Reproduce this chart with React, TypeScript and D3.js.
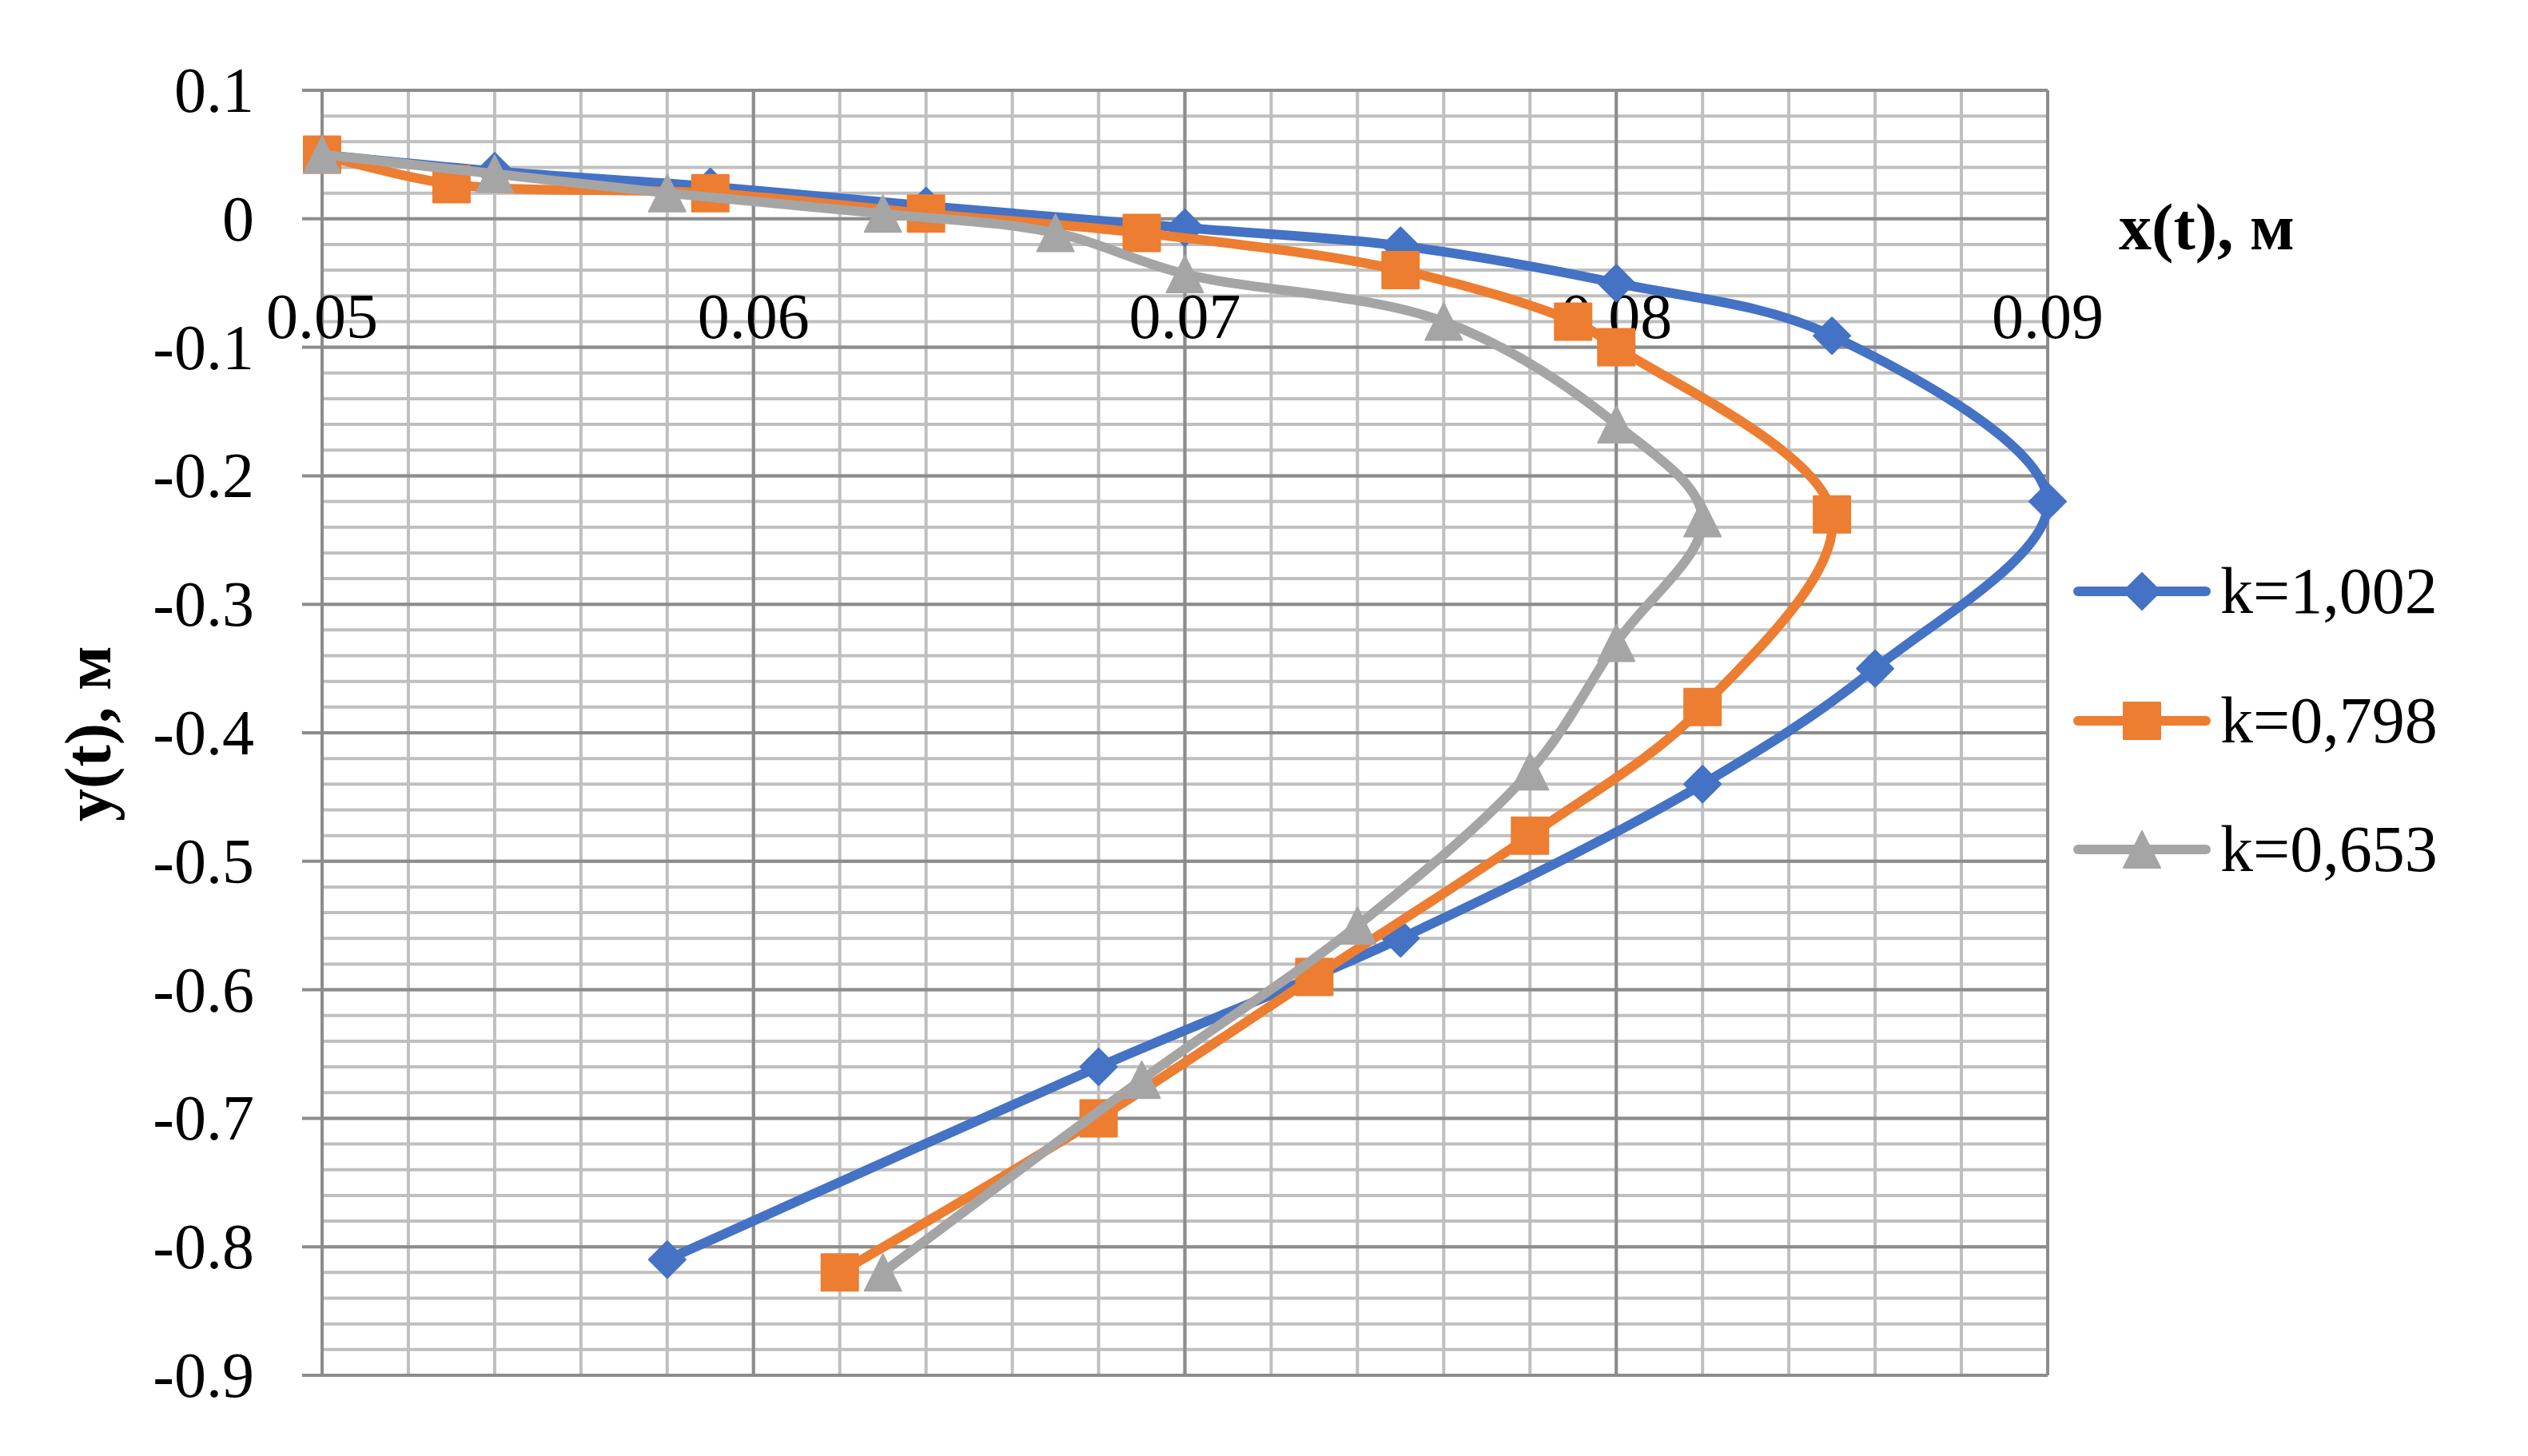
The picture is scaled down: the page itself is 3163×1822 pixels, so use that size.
import React from "react";
import * as d3 from "d3";

const W = 3163;
const H = 1822;

const seriesNames = ["k=1,002", "k=0,798", "k=0,653"];
const seriesColors = ["#4472C4", "#ED7D31", "#A5A5A5"];
const seriesMarkers = ["diamond", "square", "triangle"];

const blueX = [0.05, 0.054, 0.059, 0.064, 0.07, 0.075, 0.08, 0.085, 0.09, 0.086, 0.082, 0.075, 0.068, 0.058];
const blueY = [0.05, 0.037, 0.025, 0.01, -0.007, -0.021, -0.05, -0.091, -0.22, -0.35, -0.44, -0.56, -0.66, -0.81];
const orangeX = [0.05, 0.053, 0.059, 0.064, 0.069, 0.075, 0.079, 0.08, 0.085, 0.082, 0.078, 0.073, 0.068, 0.062];
const orangeY = [0.05, 0.027, 0.02, 0.004, -0.011, -0.04, -0.08, -0.1, -0.23, -0.38, -0.48, -0.59, -0.7, -0.82];
const grayX = [0.05, 0.054, 0.058, 0.063, 0.067, 0.07, 0.076, 0.08, 0.082, 0.08, 0.078, 0.074, 0.069, 0.063];
const grayY = [0.05, 0.035, 0.02, 0.004, -0.011, -0.043, -0.08, -0.16, -0.233, -0.33, -0.43, -0.55, -0.67, -0.82];

const xTicks = [0.05, 0.06, 0.07, 0.08, 0.09];
const xTickLabels = ["0.05", "0.06", "0.07", "0.08", "0.09"];
const yTicks = [0.1, 0, -0.1, -0.2, -0.3, -0.4, -0.5, -0.6, -0.7, -0.8, -0.9];
const yTickLabels = ["0.1", "0", "-0.1", "-0.2", "-0.3", "-0.4", "-0.5", "-0.6", "-0.7", "-0.8", "-0.9"];

const xTitle = "x(t), м";
const yTitle = "y(t), м";

const FONT = "'Liberation Serif', 'Times New Roman', serif";

function markerPath(type: string, cx: number, cy: number, s: number) {
  const h = s / 2;
  if (type === "diamond") {
    return `M${cx},${cy - h}L${cx + h},${cy}L${cx},${cy + h}L${cx - h},${cy}Z`;
  }
  if (type === "square") {
    return `M${cx - h},${cy - h}H${cx + h}V${cy + h}H${cx - h}Z`;
  }
  return `M${cx},${cy - h}L${cx + h},${cy + h}L${cx - h},${cy + h}Z`;
}

export default function App() {
  const x = d3.scaleLinear().domain([0.05, 0.09]).range([403, 2562]);
  const y = d3.scaleLinear().domain([0.1, -0.9]).range([113, 1721]);

  const minorX = d3.range(0, 21).map((i) => 0.05 + i * 0.002);
  const minorY = d3.range(0, 51).map((i) => 0.1 - i * 0.02);

  const series = [
    { xs: blueX, ys: blueY },
    { xs: orangeX, ys: orangeY },
    { xs: grayX, ys: grayY },
  ];

  const line = d3
    .line<[number, number]>()
    .x((d) => x(d[0]))
    .y((d) => y(d[1]))
    .curve(d3.curveCatmullRom.alpha(0.5));

  const legendY = [740, 902, 1063];

  return (
    <svg
      width={W}
      height={H}
      viewBox={`0 0 ${W} ${H}`}
      style={{ position: "absolute", left: 0, top: 0, background: "#fff" }}
    >
      <rect x={0} y={0} width={W} height={H} fill="#fff" />
      {/* minor grid */}
      {minorX.map((v, i) => (
        <line key={"mx" + i} x1={x(v)} x2={x(v)} y1={y(0.1)} y2={y(-0.9)} stroke="#BFBFBF" strokeWidth={4} />
      ))}
      {minorY.map((v, i) => (
        <line key={"my" + i} x1={x(0.05)} x2={x(0.09)} y1={y(v)} y2={y(v)} stroke="#BFBFBF" strokeWidth={4} />
      ))}
      {/* major grid */}
      {xTicks.map((v, i) => (
        <line key={"Mx" + i} x1={x(v)} x2={x(v)} y1={y(0.1)} y2={y(-0.9)} stroke="#8C8C8C" strokeWidth={4} />
      ))}
      {yTicks.map((v, i) => (
        <line key={"My" + i} x1={x(0.05) - 25} x2={x(0.09)} y1={y(v)} y2={y(v)} stroke="#8C8C8C" strokeWidth={4} />
      ))}
      {/* y tick labels */}
      {yTicks.map((v, i) => (
        <text
          key={"yl" + i}
          x={318}
          y={y(v) + 27}
          textAnchor="end"
          fontFamily={FONT}
          fontSize={80}
          fill="#000"
        >
          {yTickLabels[i]}
        </text>
      ))}
      {/* x tick labels */}
      {xTicks.map((v, i) => (
        <text
          key={"xl" + i}
          x={x(v)}
          y={423}
          textAnchor="middle"
          fontFamily={FONT}
          fontSize={80}
          fill="#000"
        >
          {xTickLabels[i]}
        </text>
      ))}
      {/* series */}
      {series.map((s, si) => {
        const pts = s.xs.map((v, i) => [v, s.ys[i]] as [number, number]);
        return (
          <g key={"s" + si}>
            <path
              d={line(pts) || ""}
              fill="none"
              stroke={seriesColors[si]}
              strokeWidth={12}
              strokeLinejoin="round"
              strokeLinecap="round"
            />
            {pts.map((p, i) => (
              <path
                key={"m" + i}
                d={markerPath(seriesMarkers[si], x(p[0]), y(p[1]), 46)}
                fill={seriesColors[si]}
                stroke={seriesColors[si]}
                strokeWidth={2}
                strokeLinejoin="round"
              />
            ))}
          </g>
        );
      })}
      {/* axis titles */}
      <text x={2761} y={312} textAnchor="middle" fontFamily={FONT} fontWeight="bold" fontSize={82} fill="#000">
        {xTitle}
      </text>
      <text
        transform={`translate(138, 918) rotate(-90)`}
        textAnchor="middle"
        fontFamily={FONT}
        fontWeight="bold"
        fontSize={82}
        fill="#000"
      >
        {yTitle}
      </text>
      {/* legend */}
      {seriesNames.map((name, i) => (
        <g key={"lg" + i}>
          <line
            x1={2600}
            x2={2760}
            y1={legendY[i]}
            y2={legendY[i]}
            stroke={seriesColors[i]}
            strokeWidth={12}
            strokeLinecap="round"
          />
          <path
            d={markerPath(seriesMarkers[i], 2680, legendY[i], 46)}
            fill={seriesColors[i]}
            stroke={seriesColors[i]}
            strokeWidth={2}
            strokeLinejoin="round"
          />
          <text x={2778} y={legendY[i] + 27} fontFamily={FONT} fontSize={82} fill="#000">
            {name}
          </text>
        </g>
      ))}
    </svg>
  );
}
